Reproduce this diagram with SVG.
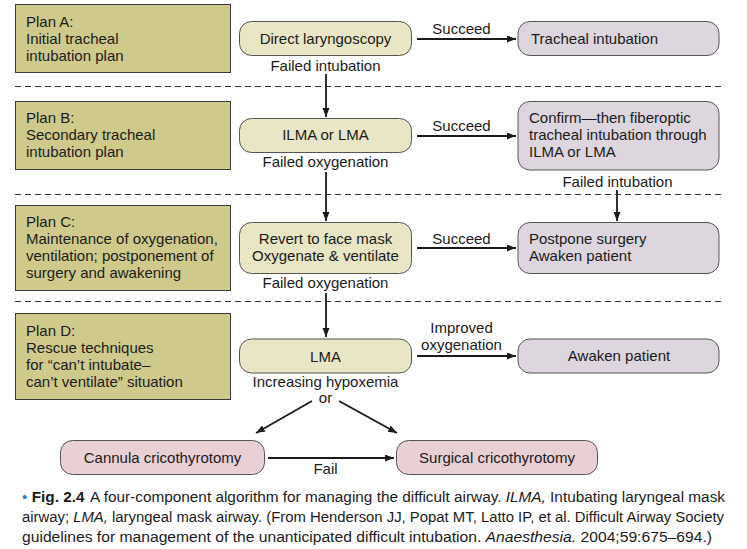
<svg xmlns="http://www.w3.org/2000/svg" width="747" height="549" viewBox="0 0 747 549">
<style>
text{font-family:"Liberation Sans",Arial,sans-serif;font-size:15px;fill:#1a1a1a}
.plan{fill:#cfca8b;stroke:#3a3a3a;stroke-width:1}
.ny{fill:#e8e6c4;stroke:#555;stroke-width:1}
.nl{fill:#ddd6de;stroke:#555;stroke-width:1}
.np{fill:#e9d0d5;stroke:#555;stroke-width:1}
.c{text-anchor:middle}
.dash{stroke:#333;stroke-width:1;stroke-dasharray:6,4;fill:none}
.ar{stroke:#1a1a1a;stroke-width:1.8;fill:none;marker-end:url(#ah)}
.cap{font-size:14px}
</style>
<defs>
<marker id="ah" markerUnits="userSpaceOnUse" markerWidth="10" markerHeight="8" refX="9" refY="3.5" orient="auto">
<path d="M0,0 L9,3.5 L0,7 z" fill="#1a1a1a"/>
</marker>
</defs>
<rect width="747" height="549" fill="#fff"/>

<g id="separators">
<line class="dash" x1="15" y1="86.5" x2="722" y2="86.5"/>
<line class="dash" x1="15" y1="194.5" x2="722" y2="194.5"/>
<line class="dash" x1="15" y1="301.5" x2="722" y2="301.5"/>
</g>

<g id="planA"><rect class="plan" x="15.5" y="4.5" width="215" height="68"/>
<text x="26" y="27">Plan A:</text><text x="26" y="44">Initial tracheal</text><text x="26" y="61">intubation plan</text></g>
<g id="planB"><rect class="plan" x="15.5" y="101.5" width="215" height="68"/>
<text x="26" y="123">Plan B:</text><text x="26" y="140">Secondary tracheal</text><text x="26" y="157">intubation plan</text></g>
<g id="planC"><rect class="plan" x="15.5" y="205.5" width="215" height="85"/>
<text x="26" y="227">Plan C:</text><text x="26" y="244">Maintenance of oxygenation,</text><text x="26" y="261">ventilation; postponement of</text><text x="26" y="278">surgery and awakening</text></g>
<g id="planD"><rect class="plan" x="15.5" y="313.5" width="215" height="86"/>
<text x="26" y="335.5">Plan D:</text><text x="26" y="352.5">Rescue techniques</text><text x="26" y="369.5">for “can’t intubate–</text><text x="26" y="386.5">can’t ventilate” situation</text></g>

<g id="directLaryngoscopy"><rect class="ny" x="239.5" y="21.5" width="172" height="34" rx="12"/>
<text class="c" x="325.5" y="44">Direct laryngoscopy</text></g>
<g id="trachealIntubation"><rect class="nl" x="518" y="21.5" width="201" height="34" rx="12"/>
<text x="531" y="44">Tracheal intubation</text></g>
<g id="ilmaOrLma"><rect class="ny" x="239.5" y="118.5" width="172" height="34" rx="12"/>
<text class="c" x="325.5" y="140">ILMA or LMA</text></g>
<g id="confirm"><rect class="nl" x="518" y="101.5" width="201" height="68.5" rx="12"/>
<text x="529" y="123">Confirm—then fiberoptic</text><text x="529" y="140">tracheal intubation through</text><text x="529" y="157">ILMA or LMA</text></g>
<g id="revert"><rect class="ny" x="239.5" y="222.5" width="172" height="51" rx="12"/>
<text class="c" x="325.5" y="244">Revert to face mask</text><text class="c" x="325.5" y="261">Oxygenate &amp; ventilate</text></g>
<g id="postpone"><rect class="nl" x="518" y="222.5" width="201" height="51" rx="12"/>
<text x="529" y="244">Postpone surgery</text><text x="529" y="261">Awaken patient</text></g>
<g id="lma"><rect class="ny" x="239.5" y="339" width="172" height="34" rx="12"/>
<text class="c" x="325.5" y="362">LMA</text></g>
<g id="awaken"><rect class="nl" x="518" y="339" width="201" height="34" rx="12"/>
<text class="c" x="619" y="361">Awaken patient</text></g>
<g id="cannula"><rect class="np" x="60.5" y="440.5" width="204" height="34" rx="12"/>
<text class="c" x="162.5" y="463">Cannula cricothyrotomy</text></g>
<g id="surgical"><rect class="np" x="396.5" y="440.5" width="201" height="34" rx="12"/>
<text class="c" x="497" y="463">Surgical cricothyrotomy</text></g>

<g id="connectors">
<line class="ar" x1="326" y1="74" x2="326" y2="117"/>
<line class="ar" x1="326" y1="172" x2="326" y2="221"/>
<line class="ar" x1="326" y1="293" x2="326" y2="337"/>
<line class="ar" x1="417" y1="39" x2="516" y2="39"/>
<line class="ar" x1="417" y1="136" x2="516" y2="136"/>
<line class="ar" x1="417" y1="248" x2="516" y2="248"/>
<line class="ar" x1="417" y1="356" x2="516" y2="356"/>
<line class="ar" x1="617" y1="190" x2="617" y2="221"/>
<line class="ar" x1="312" y1="401" x2="256" y2="433"/>
<line class="ar" x1="339" y1="401" x2="397" y2="433"/>
<line class="ar" x1="268" y1="458" x2="394" y2="458"/>
<text class="c" x="325.5" y="71">Failed intubation</text>
<text class="c" x="461.5" y="34">Succeed</text>
<text class="c" x="325.5" y="167">Failed oxygenation</text>
<text class="c" x="461.5" y="131">Succeed</text>
<text class="c" x="617.5" y="187">Failed intubation</text>
<text class="c" x="461.5" y="244">Succeed</text>
<text class="c" x="325.5" y="288">Failed oxygenation</text>
<text class="c" x="461.5" y="333">Improved</text>
<text class="c" x="461.5" y="350">oxygenation</text>
<text class="c" x="325.5" y="387">Increasing hypoxemia</text>
<text class="c" x="325.5" y="403">or</text>
<text class="c" x="325.5" y="474">Fail</text>
</g>

<g id="caption">
<text class="cap" x="22" y="502" textLength="703" lengthAdjust="spacingAndGlyphs"><tspan fill="#2f7fb0">•</tspan> <tspan font-weight="bold">Fig. 2.4</tspan><tspan dx="5">A four-component algorithm for managing the difficult airway. </tspan><tspan font-style="italic">ILMA,</tspan> Intubating laryngeal mask</text>
<text class="cap" x="22" y="522" textLength="702" lengthAdjust="spacingAndGlyphs">airway; <tspan font-style="italic">LMA,</tspan> laryngeal mask airway. (From Henderson JJ, Popat MT, Latto IP, et al. Difficult Airway Society</text>
<text class="cap" x="22" y="542" textLength="690" lengthAdjust="spacingAndGlyphs">guidelines for management of the unanticipated difficult intubation. <tspan font-style="italic">Anaesthesia.</tspan> 2004;59:675–694.)</text>
</g>
</svg>
